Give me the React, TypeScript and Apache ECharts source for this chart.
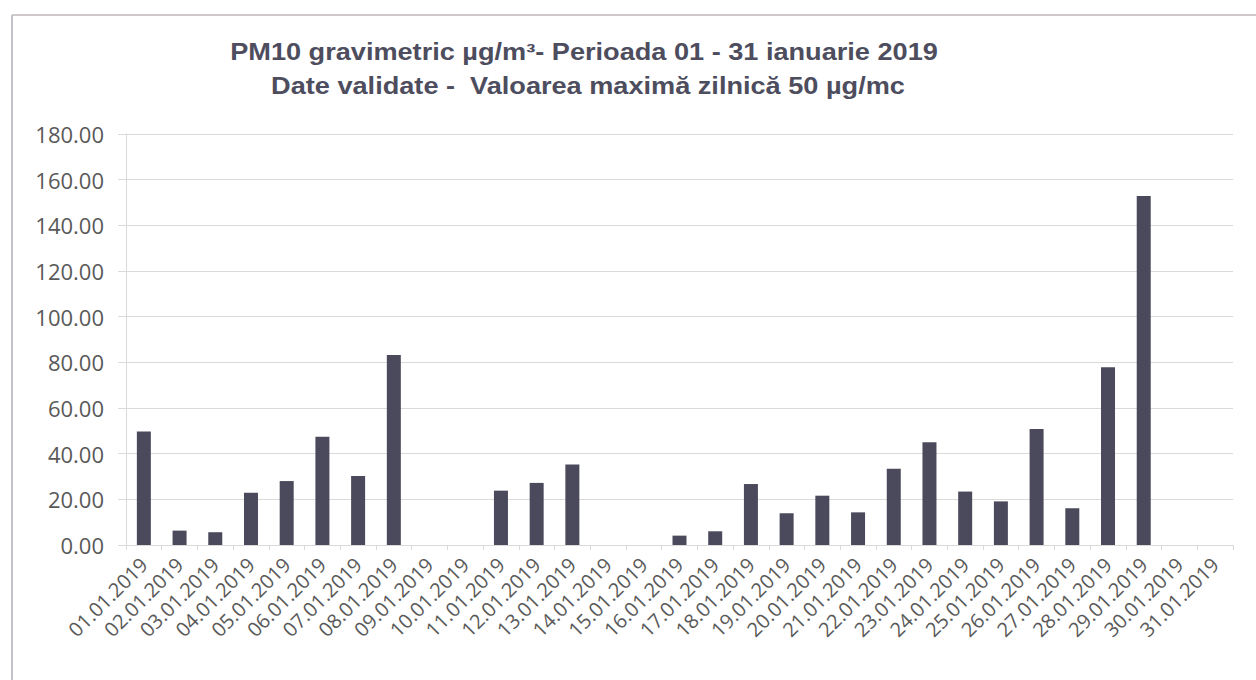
import React, { useEffect, useRef } from "react";
import * as echarts from "echarts";

const titleLines = [
  "PM10 gravimetric µg/m³- Perioada 01 - 31 ianuarie 2019",
  "Date validate -  Valoarea maximă zilnică 50 µg/mc",
];

const categories = [
  "01.01.2019", "02.01.2019", "03.01.2019", "04.01.2019", "05.01.2019",
  "06.01.2019", "07.01.2019", "08.01.2019", "09.01.2019", "10.01.2019",
  "11.01.2019", "12.01.2019", "13.01.2019", "14.01.2019", "15.01.2019",
  "16.01.2019", "17.01.2019", "18.01.2019", "19.01.2019", "20.01.2019",
  "21.01.2019", "22.01.2019", "23.01.2019", "24.01.2019", "25.01.2019",
  "26.01.2019", "27.01.2019", "28.01.2019", "29.01.2019", "30.01.2019",
  "31.01.2019",
];

const pm10Values: (number | null)[] = [
  49.7, 6.3, 5.6, 22.9, 28.0,
  47.4, 30.2, 83.2, null, null,
  23.8, 27.2, 35.3, null, null,
  4.1, 6.0, 26.7, 13.9, 21.6,
  14.3, 33.4, 45.0, 23.4, 19.1,
  50.8, 16.1, 77.8, 152.8, null,
  null,
];

const yMin = 0;
const yMax = 180;
const yInterval = 20;

export default function App() {
  const ref = useRef<HTMLDivElement>(null);

  useEffect(() => {
    if (!ref.current) return;
    const chart = echarts.init(ref.current, null, { renderer: "svg" });
    const labelColor = "#595959";
    const gridColor = "#dcd9d9";
    const titleStyle = {
      fontFamily: "'Liberation Sans', Arial, sans-serif",
      fontWeight: "bold",
      fontSize: 23,
      fill: "#4d4d5e",
      align: "center",
      verticalAlign: "middle",
    };
    chart.setOption({
      animation: false,
      backgroundColor: "#ffffff",
      graphic: [
        {
          type: "line",
          shape: { x1: 12, y1: 15, x2: 1256, y2: 15 },
          style: { stroke: "#cfc8cc", lineWidth: 2 },
        },
        {
          type: "line",
          shape: { x1: 12, y1: 15, x2: 12, y2: 680 },
          style: { stroke: "#c4c4c8", lineWidth: 2 },
        },
        {
          type: "text",
          x: 584,
          y: 52,
          scaleX: 1.18,
          style: { ...titleStyle, text: titleLines[0] },
        },
        {
          type: "text",
          x: 588,
          y: 86,
          scaleX: 1.18,
          style: { ...titleStyle, text: titleLines[1] },
        },
      ],
      grid: { left: 126, right: 23, top: 134, bottom: 135, containLabel: false },
      xAxis: {
        type: "category",
        data: categories,
        axisLine: { show: true, lineStyle: { color: gridColor, width: 1 } },
        axisTick: { show: true, length: 5, lineStyle: { color: gridColor } },
        axisLabel: {
          rotate: 45,
          interval: 0,
          margin: 16,
          color: labelColor,
          fontFamily: "'Open Sans', sans-serif",
          fontSize: 20,
        },
      },
      yAxis: {
        type: "value",
        min: yMin,
        max: yMax,
        interval: yInterval,
        axisLine: { show: true, lineStyle: { color: gridColor } },
        axisTick: { show: true, length: 8, lineStyle: { color: gridColor } },
        splitLine: { show: true, lineStyle: { color: gridColor, width: 1 } },
        axisLabel: {
          margin: 22,
          color: labelColor,
          fontFamily: "'Open Sans', sans-serif",
          fontSize: 22,
          formatter: (v: number) => v.toFixed(2),
        },
      },
      series: [
        {
          type: "bar",
          data: pm10Values,
          barWidth: 14,
          itemStyle: { color: "#4a4a5c" },
        },
      ],
    });
    return () => chart.dispose();
  }, []);

  return (
    <div
      ref={ref}
      style={{ position: "fixed", left: 0, top: 0, width: 1256, height: 680 }}
    />
  );
}
